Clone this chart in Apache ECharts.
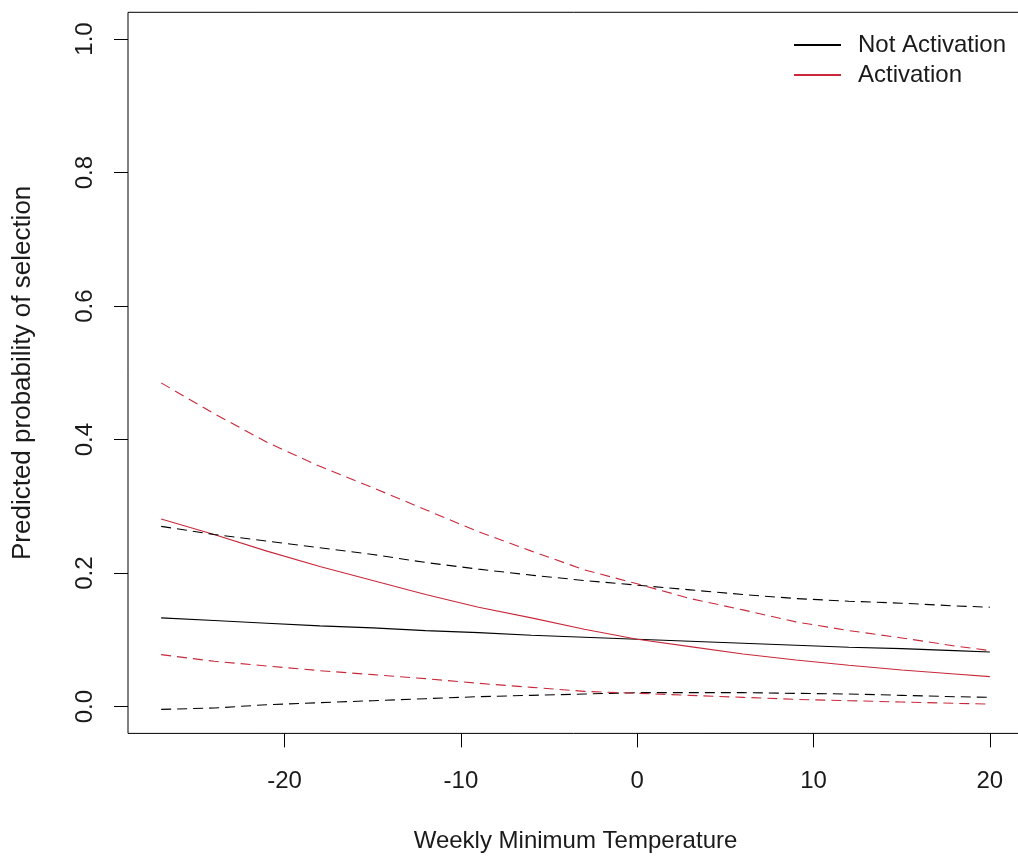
<!DOCTYPE html>
<html>
<head>
<meta charset="utf-8">
<script src="https://cdn.jsdelivr.net/npm/echarts@6/dist/echarts.min.js"></script>
<style>
  html, body { margin: 0; padding: 0; background: #fff; overflow: hidden; }
  #chart { width: 1018px; height: 857px; }
</style>
</head>
<body>
<div id="chart"></div>
<script>
// Weekly minimum temperature (°C) at which predictions are evaluated
const temperature = [-27, -24, -21, -18, -15, -12, -9, -6, -3, 0, 3, 6, 9, 12, 15, 18, 20];

// Not Activation: fitted probability and confidence bounds
const notActFit   = [0.133, 0.129, 0.125, 0.121, 0.118, 0.114, 0.111, 0.107, 0.104, 0.101, 0.098, 0.095, 0.092, 0.089, 0.087, 0.084, 0.082];
const notActUpper = [0.270, 0.258, 0.248, 0.238, 0.228, 0.216, 0.206, 0.197, 0.189, 0.182, 0.175, 0.168, 0.162, 0.158, 0.155, 0.151, 0.149];
const notActLower = [-0.004, -0.002, 0.003, 0.006, 0.009, 0.012, 0.015, 0.017, 0.019, 0.021, 0.021, 0.021, 0.020, 0.019, 0.017, 0.015, 0.014];

// Activation: fitted probability and confidence bounds
const actFit   = [0.281, 0.258, 0.233, 0.210, 0.189, 0.168, 0.149, 0.133, 0.116, 0.101, 0.090, 0.079, 0.070, 0.062, 0.055, 0.049, 0.045];
const actUpper = [0.485, 0.439, 0.396, 0.360, 0.328, 0.295, 0.262, 0.233, 0.205, 0.184, 0.162, 0.145, 0.127, 0.114, 0.103, 0.091, 0.084];
const actLower = [0.078, 0.068, 0.061, 0.054, 0.048, 0.042, 0.035, 0.029, 0.023, 0.020, 0.017, 0.014, 0.011, 0.009, 0.007, 0.005, 0.004];

// Tick positions
const xTicks = [-20, -10, 0, 10, 20];
const yTicks = [0, 0.2, 0.4, 0.6, 0.8, 1.0];

const BLACK = '#000000';
const RED = '#c8283a';
const FONT = '"Liberation Sans", Arial, sans-serif';
const TEXT = '#1a1a1a';

const pairs = ys => temperature.map((t, i) => [t, ys[i]]);

function lineSeries(name, ys, color, dashed) {
  return {
    name: name,
    type: 'line',
    data: pairs(ys),
    showSymbol: false,
    symbol: 'none',
    silent: true,
    lineStyle: { color: color, width: 1.1, type: dashed ? [10, 6] : 'solid' },
    itemStyle: { color: color },
    z: 3
  };
}

const chart = echarts.init(document.getElementById('chart'), null, { renderer: 'canvas' });

chart.setOption({
  animation: false,
  backgroundColor: '#ffffff',
  textStyle: { fontFamily: FONT },
  grid: {
    left: 128, top: 12.3, width: 895, height: 721.1,
    outerBoundsMode: 'none',
    containLabel: false,
    show: true, borderColor: BLACK, borderWidth: 1, backgroundColor: 'transparent'
  },
  legend: {
    data: ['Not Activation', 'Activation'],
    orient: 'vertical',
    left: 788,
    top: 28,
    itemWidth: 47,
    itemHeight: 14,
    itemGap: 6,
    itemStyle: { opacity: 0 },
    textStyle: { fontFamily: FONT, fontSize: 24, color: TEXT, padding: [0, 0, 0, 12] },
    selectedMode: false
  },
  xAxis: {
    type: 'value',
    min: -28.88,
    max: 21.88,
    name: 'Weekly Minimum Temperature',
    nameLocation: 'middle',
    nameGap: 96,
    nameTextStyle: { fontFamily: FONT, fontSize: 24, color: TEXT },
    axisLine: { show: false, onZero: false },
    splitLine: { show: false },
    axisTick: { show: true, inside: false, length: 14, customValues: xTicks, lineStyle: { color: BLACK, width: 1 } },
    axisLabel: { customValues: xTicks, margin: 36, fontFamily: FONT, fontSize: 24, color: TEXT }
  },
  yAxis: {
    type: 'value',
    min: -0.04,
    max: 1.04,
    name: 'Predicted probability of selection',
    nameLocation: 'middle',
    nameGap: 92,
    nameTextStyle: { fontFamily: FONT, fontSize: 26, color: TEXT },
    axisLine: { show: false, onZero: false },
    splitLine: { show: false },
    axisTick: { show: true, inside: false, length: 14, customValues: yTicks, lineStyle: { color: BLACK, width: 1 } },
    axisLabel: {
      customValues: yTicks, rotate: 90, margin: 31,
      fontFamily: FONT, fontSize: 24, color: TEXT,
      formatter: v => v.toFixed(1)
    }
  },
  series: [
    lineSeries('Not Activation', notActFit, BLACK, false),
    lineSeries('Activation', actFit, RED, false),
    lineSeries('Not Activation upper', notActUpper, BLACK, true),
    lineSeries('Not Activation lower', notActLower, BLACK, true),
    lineSeries('Activation upper', actUpper, RED, true),
    lineSeries('Activation lower', actLower, RED, true)
  ]
});
</script>
</body>
</html>
